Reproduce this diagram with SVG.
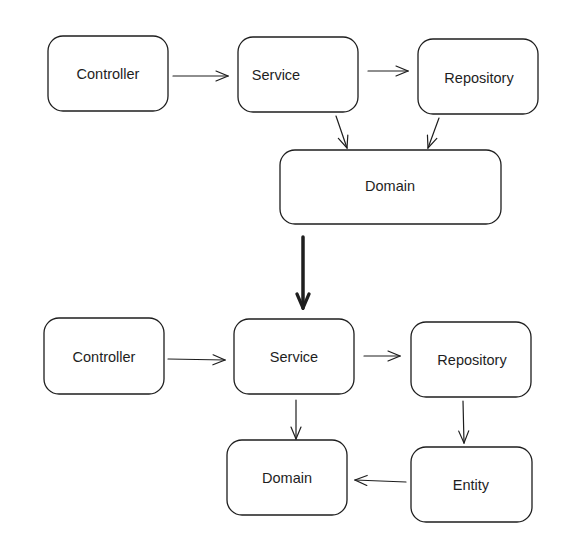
<svg xmlns="http://www.w3.org/2000/svg" width="582" height="552" viewBox="0 0 582 552">
<style>
.box{fill:#fff;stroke:#1e1e1e;stroke-width:1.3}
.lbl{font-family:"Liberation Sans",Arial,sans-serif;font-size:14.5px;fill:#1e1e1e;text-anchor:middle;dominant-baseline:central}
.c{fill:none;stroke:#1e1e1e;stroke-width:1.2;stroke-linecap:round;marker-end:url(#ah)}
.big{fill:none;stroke:#1e1e1e;stroke-width:3.5;stroke-linecap:round;marker-end:url(#ahb)}
</style>
<defs>
<marker id="ah" viewBox="0 0 14 12" refX="13" refY="6" markerWidth="14" markerHeight="12" markerUnits="userSpaceOnUse" orient="auto">
<path d="M1,1 L13,6 L1,11" fill="none" stroke="#1e1e1e" stroke-width="1.2" stroke-linecap="round"/>
</marker>
<marker id="ahb" viewBox="0 0 18 16" refX="16" refY="8" markerWidth="18" markerHeight="16" markerUnits="userSpaceOnUse" orient="auto">
<path d="M2,2 L16,8 L2,14" fill="none" stroke="#1e1e1e" stroke-width="3.2" stroke-linecap="round"/>
</marker>
</defs>
<rect width="582" height="552" fill="#fff"/>
<g id="connectors">
<path class="c" d="M173,76 L228,76"/>
<path class="c" d="M368,71 L408,71"/>
<path class="c" d="M336,116 L347,148"/>
<path class="c" d="M439,118 L428,148"/>
<path class="big" d="M303,237 L303,308"/>
<path class="c" d="M168,359 L225,360"/>
<path class="c" d="M364,356 L400,356"/>
<path class="c" d="M296,400 L296,439"/>
<path class="c" d="M463,401 L464,443"/>
<path class="c" d="M406,482 L355,480"/>
</g>
<g id="top-controller"><rect class="box" x="48" y="36" width="120" height="75" rx="15"/><text class="lbl" x="108" y="74">Controller</text></g>
<g id="top-service"><rect class="box" x="238" y="37" width="120" height="75" rx="15"/><text class="lbl" x="276" y="75">Service</text></g>
<g id="top-repository"><rect class="box" x="418" y="39" width="120" height="75" rx="15"/><text class="lbl" x="479" y="78">Repository</text></g>
<g id="top-domain"><rect class="box" x="280" y="150" width="221" height="74" rx="15"/><text class="lbl" x="390" y="186">Domain</text></g>
<g id="bot-controller"><rect class="box" x="44" y="318" width="120" height="76" rx="15"/><text class="lbl" x="104" y="357">Controller</text></g>
<g id="bot-service"><rect class="box" x="234" y="319" width="120" height="75" rx="15"/><text class="lbl" x="294" y="357">Service</text></g>
<g id="bot-repository"><rect class="box" x="411" y="322" width="120" height="75" rx="15"/><text class="lbl" x="472" y="360">Repository</text></g>
<g id="bot-domain"><rect class="box" x="227" y="440" width="120" height="75" rx="15"/><text class="lbl" x="287" y="478">Domain</text></g>
<g id="bot-entity"><rect class="box" x="411" y="447" width="121" height="75" rx="15"/><text class="lbl" x="471" y="485">Entity</text></g>
</svg>
